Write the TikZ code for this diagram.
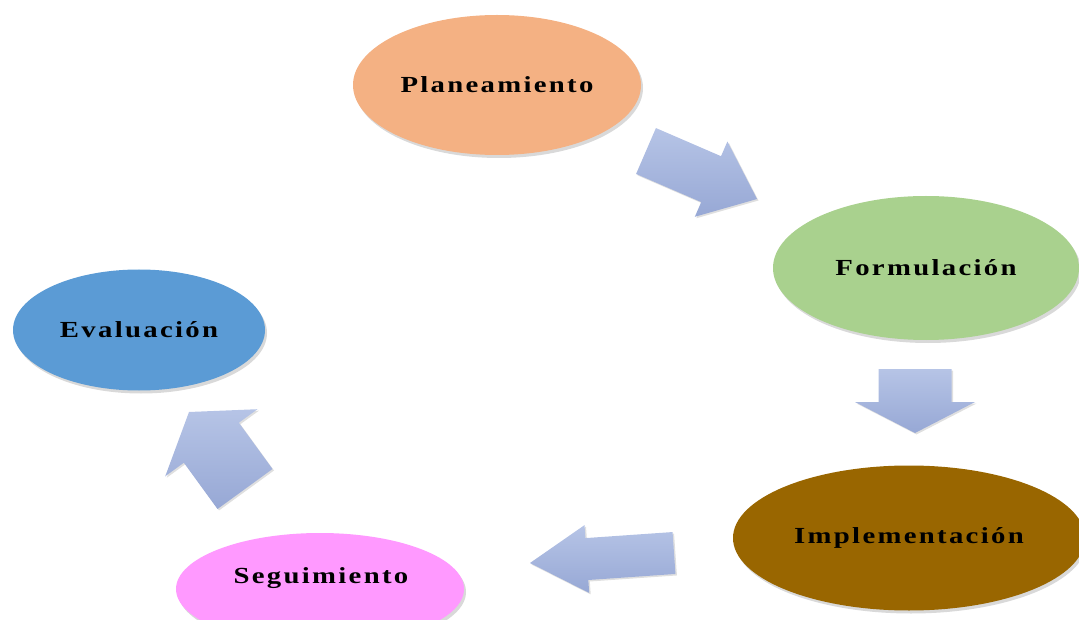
\documentclass[tikz,border=0pt]{standalone}
\usepackage{fontspec}
\setmainfont{Liberation Serif}
\newfontfamily\etiqueta[FakeStretch=1.25, LetterSpace=10]{Liberation Serif Bold}
\usetikzlibrary{shapes.geometric, calc, shadows}

\definecolor{planeacol}{HTML}{F4B183}
\definecolor{formcol}{HTML}{A9D18E}
\definecolor{implcol}{HTML}{996600}
\definecolor{segucol}{HTML}{FF99FF}
\definecolor{evalcol}{HTML}{5B9BD5}
\definecolor{flechaclara}{HTML}{B6C4E6}
\definecolor{flechaosc}{HTML}{97A8D5}

% block arrow: tail, tip, shaft half width, head half width, head length
\newcommand{\flechabloque}[5]{%
  \coordinate (fbase) at ($(#2)!#5!(#1)$);
  \shade[flecha] ($(#1)!#3!90:(#2)$) -- ($(fbase)!#3!90:(#2)$) -- ($(fbase)!#4!90:(#2)$) -- (#2)
    -- ($(fbase)!#4!-90:(#2)$) -- ($(fbase)!#3!-90:(#2)$) -- ($(#1)!#3!-90:(#2)$) -- cycle;}

\begin{document}
\begin{tikzpicture}[
		  x=1pt, y=-1pt,
		  font=\etiqueta\fontsize{23}{27}\selectfont,
		  etapa/.style={
		    ellipse,
		    inner sep=0pt,
		    text=black,
		    drop shadow={opacity=0.3, shadow xshift=2pt, shadow yshift=-3pt}
		  },
		  flecha/.style={
		    top color=flechaclara,
		    bottom color=flechaosc,
		    drop shadow={opacity=0.25, shadow xshift=1.5pt, shadow yshift=-1.5pt}
		  }
		]

		\useasboundingbox (0,0) rectangle (1079,620);
		\clip (0,0) rectangle (1079,620);

		% --- stages ---
		\node[etapa, fill=planeacol, minimum width=288pt, minimum height=140pt] (plan) at (497,85) {Planeamiento};
		\node[etapa, fill=formcol, minimum width=306pt, minimum height=144pt] (form) at (926,268) {Formulación};
		\node[etapa, fill=implcol, minimum width=352pt, minimum height=145pt] (impl) at (909,538) {Implementación};
		\node[etapa, fill=segucol, minimum width=288pt, minimum height=112pt] (segu) at (320,589) {};
		\node (segutxt) at (321,578) {Seguimiento};
		\node[etapa, fill=evalcol, minimum width=252pt, minimum height=121pt] (eval) at (139,330) {Evaluación};

		% --- block arrows ---
		\coordinate (f1cola) at (646,151);
		\coordinate (f1punta) at (757,199);
		\coordinate (f2cola) at (915,369);
		\coordinate (f2punta) at (915,433);
		\coordinate (f3cola) at (674,553);
		\coordinate (f3punta) at (530,563);
		\coordinate (f4cola) at (245,489);
		\coordinate (f4punta) at (189,412);

		\flechabloque{f1cola}{f1punta}{25pt}{41pt}{50pt}
		\flechabloque{f2cola}{f2punta}{36.5pt}{60pt}{31pt}
		\flechabloque{f3cola}{f3punta}{21pt}{34pt}{57pt}
		\flechabloque{f4cola}{f4punta}{34pt}{57pt}{38pt}

		\end{tikzpicture}
\end{document}
